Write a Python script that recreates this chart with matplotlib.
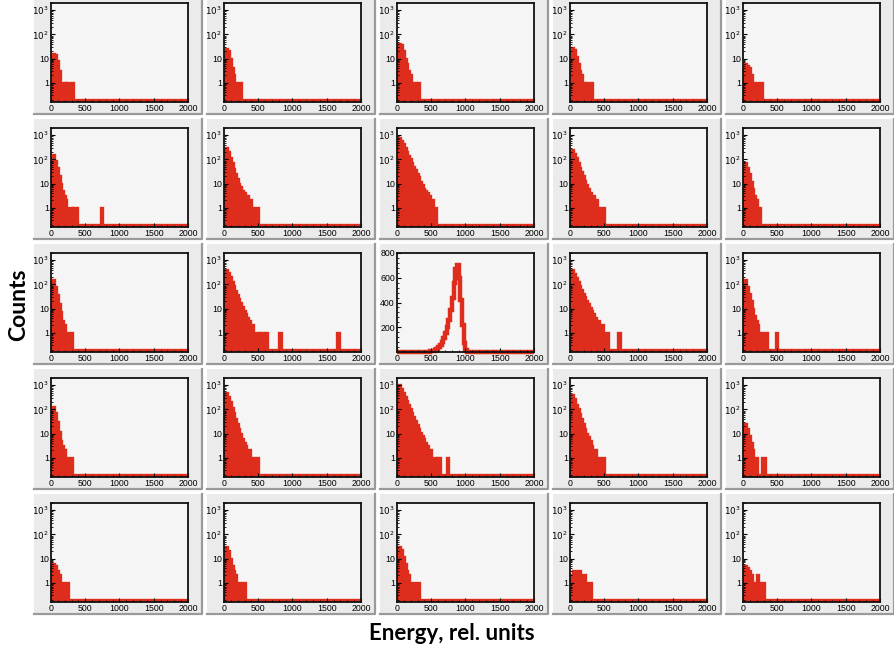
import numpy as np
import matplotlib
matplotlib.use("Agg")
import matplotlib.pyplot as plt
from matplotlib.patches import Rectangle
from matplotlib.ticker import FixedLocator, MultipleLocator

RED = '#de2d1d'
BIN = 25
N_BINS = 80

# counts per 25-unit energy bin, starting at 0 (remaining bins are empty)
row0_counts = [
    [12, 15, 14, 8, 3, 1, 1, 1, 0, 1, 1, 1, 1],
    [18, 25, 20, 10, 4, 2, 1, 1, 1, 1],
    [30, 40, 35, 20, 10, 6, 3, 2, 1, 1, 1, 0, 1],
    [20, 28, 22, 12, 6, 3, 2, 1, 1, 0, 1, 1, 1],
    [4, 6, 5, 4, 2, 1, 1, 1, 1, 1, 1],
]
row1_counts = [
    [120, 150, 90, 45, 20, 10, 5, 3, 2, 1, 1, 1, 0, 1, 1],
    [250, 300, 200, 120, 70, 40, 25, 15, 10, 7, 5, 4, 3, 3, 2, 2, 1, 1, 1, 1],
    [700, 800, 600, 420, 300, 200, 140, 100, 70, 50, 35, 25, 18, 12, 9, 6,
     5, 4, 3, 2, 2, 1, 1],
    [200, 250, 170, 110, 70, 45, 30, 20, 13, 9, 6, 4, 3, 3, 2, 2, 1, 1, 1, 1],
    [50, 70, 45, 25, 12, 6, 3, 2, 1, 1],
]
row2_counts = [
    [120, 150, 80, 35, 15, 7, 3, 2, 1, 1, 1, 1],
    [300, 400, 300, 200, 130, 85, 55, 35, 25, 17, 12, 8, 6, 4, 3, 2, 2, 1,
     1, 1, 0, 1, 1, 0, 1],
    # central crystal, linear scale
    [0, 0, 0, 0, 0, 0, 0, 0, 0, 0, 0, 0, 0, 0, 0, 0, 0, 0, 2, 5, 8, 12, 18,
     26, 38, 55, 80, 110, 150, 200, 260, 340, 440, 560, 670, 700, 600, 420,
     220, 70, 15, 3],
    [300, 400, 280, 190, 130, 90, 60, 42, 30, 21, 15, 11, 8, 6, 4, 3, 3, 2,
     2, 1, 1, 1],
    [100, 150, 80, 40, 20, 10, 5, 3, 2, 1, 1, 1, 1, 1],
]
row3_counts = [
    [100, 130, 70, 30, 12, 5, 3, 2, 1, 1, 1, 1],
    [400, 500, 330, 200, 120, 70, 40, 25, 15, 10, 6, 4, 3, 2, 2, 1, 1, 1, 1, 1],
    [900, 1000, 700, 480, 330, 220, 150, 100, 70, 48, 33, 23, 16, 11, 8, 6,
     4, 3, 2, 2, 1, 1, 1, 0, 1],
    [300, 400, 260, 160, 100, 62, 40, 25, 16, 10, 7, 5, 3, 2, 2, 1, 1, 1, 1, 1],
    [18, 25, 15, 8, 4, 2, 1, 1, 0, 0, 0, 1, 1],
]
row4_counts = [
    [5, 6, 5, 3, 2, 1, 1, 1, 1, 1],
    [25, 30, 20, 10, 5, 3, 2, 1, 1, 1, 1, 1],
    [25, 30, 22, 12, 6, 3, 2, 1, 1, 1, 1, 1, 1],
    [2, 2, 3, 3, 3, 3, 2, 2, 2, 1, 1, 1],
    [4, 5, 4, 3, 2, 1, 1, 1, 2, 1, 1, 1],
]

# isolated single-count events (energy), keyed by (row, col)
spike_rc = [(1, 0), (2, 1), (2, 1), (2, 3), (2, 4), (3, 2)]
spike_energy = [725, 800, 1650, 720, 475, 725]

all_rows = [row0_counts, row1_counts, row2_counts, row3_counts, row4_counts]
log_ticks = [1, 10, 100, 1000]
log_labels = ['1', '10', '$10^2$', '$10^3$']
lin_ticks = [200, 400, 600, 800]
x_ticks = [0, 500, 1000, 1500, 2000]

W, H = 895, 650
fig = plt.figure(figsize=(W / 100, H / 100), dpi=100)
fig.patch.set_facecolor('white')


def fbox(left, top, w, h):
    return [left / W, 1 - (top + h) / H, w / W, h / H]


edges = np.arange(0, BIN * N_BINS + 1, BIN)

for r in range(5):
    for c in range(5):
        ax_l = 51 + 173 * c
        ax_t = 3 + 125 * r
        # pad background behind each histogram
        pl, pt, pw, ph = ax_l - 17, ax_t - 9, 168, 120
        fig.patches.append(Rectangle((pl / W, 1 - (pt + ph) / H), pw / W, ph / H,
                                     transform=fig.transFigure, facecolor='#ebebeb',
                                     edgecolor='none', zorder=-2))
        fig.lines.append(plt.Line2D([pl / W, (pl + pw) / W, (pl + pw) / W],
                                    [1 - (pt + ph) / H, 1 - (pt + ph) / H, 1 - pt / H],
                                    transform=fig.transFigure, color='#9a9a9a',
                                    lw=1.6, zorder=-1))

        ax = fig.add_axes(fbox(ax_l, ax_t, 137, 99))
        ax.set_zorder(1)
        ax.set_facecolor('#f5f5f5')
        counts = np.zeros(N_BINS)
        head = all_rows[r][c]
        counts[:len(head)] = head
        for (sr, sc), e in zip(spike_rc, spike_energy):
            if (sr, sc) == (r, c):
                counts[int(e // BIN)] += 1

        if (r, c) == (2, 2):
            ax.stairs(counts, edges, color=RED, lw=3.2, baseline=None, clip_on=False)
            ax.set_ylim(0, 800)
            ax.set_yticks(lin_ticks)
            ax.yaxis.set_minor_locator(MultipleLocator(40))
        else:
            floor = 0.2
            vals = np.where(counts > 0, counts, floor)
            ax.set_yscale('log')
            ax.stairs(vals, edges, fill=True, baseline=0.16, color=RED, lw=0)
            ax.stairs(vals, edges, color=RED, lw=2.4, baseline=None)
            ax.set_ylim(0.16, 2000)
            ax.yaxis.set_major_locator(FixedLocator(log_ticks))
            ax.set_yticklabels(log_labels)
            minors = [m * 10.0 ** k for k in range(-1, 4) for m in range(2, 10)]
            ax.yaxis.set_minor_locator(FixedLocator(minors))
            ax.yaxis.set_minor_formatter(plt.NullFormatter())

        ax.set_xlim(0, 2000)
        ax.set_xticks(x_ticks)
        ax.xaxis.set_minor_locator(MultipleLocator(100))
        ax.tick_params(which='both', direction='in', top=False, right=False,
                       labelsize=6.3, pad=1.5, colors='black')
        ax.tick_params(which='major', length=3, width=0.8)
        ax.tick_params(which='minor', length=1.6, width=0.6)
        for lab in ax.get_xticklabels() + ax.get_yticklabels():
            lab.set_family('Liberation Sans')
        for s in ax.spines.values():
            s.set_linewidth(1.3)
            s.set_color('#111111')

fig.text(19 / W, 1 - 305 / H, 'Counts', rotation=90, ha='center', va='center',
         fontsize=16.5, fontweight='bold', family='Lato')
fig.text(452 / W, 1 - 633 / H, 'Energy, rel. units', ha='center', va='center',
         fontsize=16, fontweight='bold', family='Lato')

fig.savefig('out.png', dpi=100)
